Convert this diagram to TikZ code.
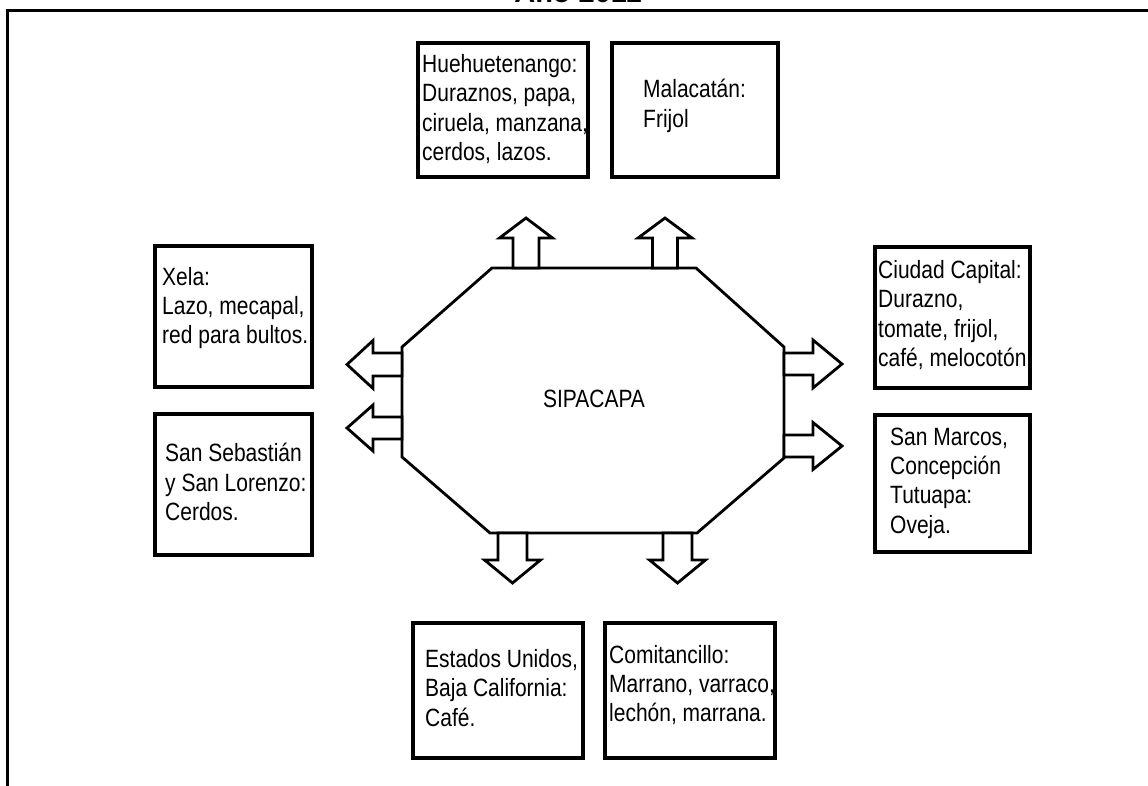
\documentclass[tikz,border=0pt]{standalone}
\usepackage{fontspec}
\setmainfont{Liberation Sans}[FakeStretch=0.84]
\newfontfamily\titlefont{Liberation Sans}
\newcommand\bodyfont{\fontsize{25}{29.3}\selectfont}
\tikzset{
  pics/barrow/.style args={#1/#2/#3/#4}{code={
    \draw[arrowline] (0,-#1/2) -- (#2,-#1/2) -- (#2,-#3/2) -- (#2+#4,0) -- (#2,#3/2) -- (#2,#1/2) -- (0,#1/2) -- cycle;
  }}
}
\begin{document}
\begin{tikzpicture}[x=1pt,y=-1pt,
  box/.style={draw, line width=3.3pt, rectangle, outer sep=0pt, inner sep=0pt, anchor=north west},
  txt/.style={font=\bodyfont, align=left, inner sep=0pt, anchor=west},
  oct/.style={line width=2.8pt, line join=miter},
  arrowline/.style={draw, line width=2.8pt, fill=white, line join=miter},
  frame/.style={line width=2.6pt}
]
\useasboundingbox (0,0) rectangle (1148,786);
\fill[white] (0,0) rectangle (1148,786);
% title (cut off at the top, as in the reference)
\node[font=\titlefont\bfseries\fontsize{29}{29}\selectfont, anchor=base, inner sep=0pt] (title) at (578,3) {Año 2011};
% frame
\coordinate (ftl) at (7.5,10.5);
\coordinate (ftr) at (1148,10.5);
\coordinate (fbl) at (7.5,786);
\draw[frame] (fbl) -- (ftl) -- (ftr);

% boxes
\node[box, minimum width=170pt, minimum height=134pt] (hueB) at (418,43) {};
\node[box, minimum width=166pt, minimum height=134pt] (malB) at (612,43) {};
\node[box, minimum width=157pt, minimum height=141pt] (xelB) at (155,246) {};
\node[box, minimum width=157pt, minimum height=141pt] (sebB) at (155,414) {};
\node[box, minimum width=155pt, minimum height=141pt] (ciuB) at (875,247) {};
\node[box, minimum width=155pt, minimum height=137pt] (marB) at (875,415) {};
\node[box, minimum width=170pt, minimum height=135pt] (estB) at (413,623) {};
\node[box, minimum width=170pt, minimum height=135pt] (comB) at (605,623) {};

% texts
\node[txt] (hueT) at (422,109) {Huehuetenango:\\Duraznos, papa,\\ciruela, manzana,\\cerdos, lazos.};
\node[txt] (malT) at (643,106) {Malacatán:\\Frijol};
\node[txt] (xelT) at (162,308) {Xela:\\Lazo, mecapal,\\red para bultos.};
\node[txt] (sebT) at (165,482) {San Sebastián\\y San Lorenzo:\\Cerdos.};
\node[txt] (ciuT) at (878,315) {Ciudad Capital:\\Durazno,\\tomate, frijol,\\café, melocotón.};
\node[txt] (marT) at (890,483) {San Marcos,\\Concepción\\Tutuapa:\\Oveja.};
\node[txt] (estT) at (425,688) {Estados Unidos,\\Baja California:\\Café.};
\node[txt] (comT) at (609,685) {Comitancillo:\\Marrano, varraco,\\lechón, marrana.};

% octagon
\coordinate (o1) at (492,268);
\coordinate (o2) at (696,268);
\coordinate (o3) at (784,347);
\coordinate (o4) at (784,458);
\coordinate (o5) at (697,533);
\coordinate (o6) at (490,533);
\coordinate (o7) at (402,457);
\coordinate (o8) at (402,347);
\draw[oct] (o1) -- (o2) -- (o3) -- (o4) -- (o5) -- (o6) -- (o7) -- (o8) -- cycle;
\node[font=\bodyfont, inner sep=0pt] (sipa) at (594,399) {SIPACAPA};

% block arrows
\pic[rotate=90]  at (526,268) {barrow=26/30/53/20};
\pic[rotate=90]  at (665,268) {barrow=25/30/54/20};
\pic[rotate=180] at (402,364.5) {barrow=23/29/48/26};
\pic[rotate=180] at (402,428) {barrow=22/29/46/26};
\pic at (784,364) {barrow=22/29/48/29};
\pic at (784,446) {barrow=22/29/47/29};
\pic[rotate=-90] at (512.5,533) {barrow=29/27/56/23};
\pic[rotate=-90] at (677.5,533) {barrow=29/27/56/23};
\end{tikzpicture}
\end{document}
